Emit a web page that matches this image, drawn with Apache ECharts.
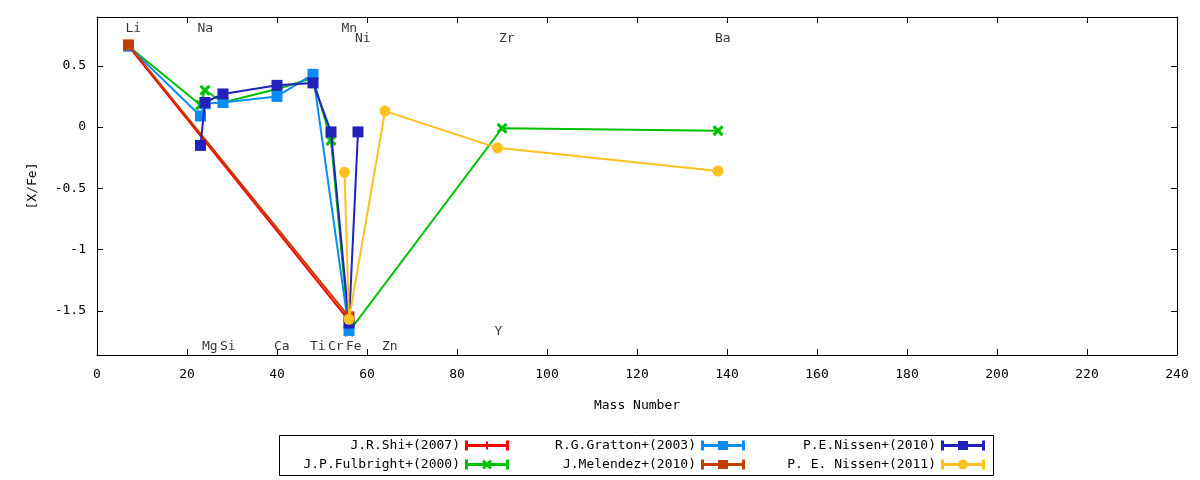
<!DOCTYPE html>
<html>
<head>
<meta charset="utf-8">
<script src="https://cdn.jsdelivr.net/npm/echarts@6/dist/echarts.min.js"></script>
<style>
  html, body { margin: 0; padding: 0; background: #fff; }
  #chart { width: 1200px; height: 480px; }
</style>
</head>
<body>
<div id="chart"></div>
<script>
// element labels drawn on the plot (mass number, [X/Fe] position of the text)
const elementNames = ['Li', 'Na', 'Mn', 'Ni', 'Zr', 'Ba', 'Mg', 'Si', 'Ca', 'Ti', 'Cr', 'Fe', 'Zn', 'Y'];
const elementMass  = [7, 23, 55, 58, 90, 138, 24, 28, 40, 48, 52, 56, 64, 89];
const elementTextY = [0.80, 0.80, 0.80, 0.72, 0.72, 0.72, -1.79, -1.79, -1.79, -1.79, -1.79, -1.79, -1.79, -1.67];

// series, x = mass number, y = [X/Fe]
const shiMass = [7, 56];
const shiVal  = [0.66, -1.58];

const fulbrightMass = [7, 23, 24, 28, 40, 48, 52, 56, 90, 138];
const fulbrightVal  = [0.66, 0.18, 0.30, 0.20, 0.31, 0.40, -0.11, -1.67, -0.01, -0.03];

const grattonMass = [7, 23, 24, 28, 40, 48, 56];
const grattonVal  = [0.66, 0.09, 0.19, 0.20, 0.25, 0.43, -1.66];

const melendezMass = [7, 56];
const melendezVal  = [0.67, -1.55];

const nissen10Mass = [23, 24, 28, 40, 48, 52, 56, 58];
const nissen10Val  = [-0.15, 0.20, 0.27, 0.34, 0.36, -0.04, -1.60, -0.04];

const nissen11Mass = [55, 56, 64, 89, 138];
const nissen11Val  = [-0.37, -1.57, 0.13, -0.17, -0.36];

const xTicks = [0, 240, 20];
const yTickValues = [-1.5, -1, -0.5, 0, 0.5];

const FONT = 'DejaVu Sans Mono';

const pairs = (xs, ys) => xs.map((x, i) => [x, ys[i]]);

// markers
const plusSym = 'path://M4,0 H6 V4 H10 V6 H6 V10 H4 V6 H0 V4 H4 Z';
const crossSym = 'path://M0,2 L2,0 L5,3 L8,0 L10,2 L7,5 L10,8 L8,10 L5,7 L2,10 L0,8 L3,5 Z';

// legend icons: line with error bar caps and the marker in the middle
const bar = 'M0,0 H3 V3.5 H41 V0 H44 V10 H41 V6.5 H3 V10 H0 Z';
const iconPlus = 'path://' + bar + ' M21,1 H23 V9 H21 Z';
const iconSquare = 'path://' + bar + ' M17,0.5 H27 V9.5 H17 Z';
const iconCross = 'path://' + bar + ' M17,2 L19,0 L22,3 L25,0 L27,2 L24,5 L27,8 L25,10 L22,7 L19,10 L17,8 L20,5 Z';
const iconCircle = 'path://' + bar + ' M20,0.3 L24,0.3 L26.8,3 L26.8,7 L24,9.7 L20,9.7 L17.2,7 L17.2,3 Z';

const names = ['J.R.Shi+(2007)', 'J.P.Fulbright+(2000)', 'R.G.Gratton+(2003)',
               'J.Melendez+(2010)', 'P.E.Nissen+(2010)', 'P. E. Nissen+(2011)'];
const colors = ['#ff0000', '#00c000', '#0a8cf5', '#c04000', '#2222bb', '#ffc020'];

function lineSeries(i, data, symbol, size) {
    return {
        name: names[i],
        type: 'line',
        data: data,
        symbol: symbol,
        symbolSize: size,
        color: colors[i],
        lineStyle: { width: 2, color: colors[i] },
        itemStyle: { color: colors[i] },
        z: 3 + i
    };
}

function legendCol(left, items) {
    return {
        orient: 'vertical',
        left: left,
        top: 434,
        align: 'right',
        itemWidth: 44,
        itemHeight: 10,
        itemGap: 6,
        selectedMode: false,
        formatter: '{a|{name}}',
        textStyle: {
            fontFamily: FONT,
            fontSize: 13,
            color: '#000',
            rich: { a: { width: 170, align: 'right', fontFamily: FONT, fontSize: 13, lineHeight: 14 } }
        },
        data: items
    };
}

const axisText = { fontFamily: FONT, fontSize: 13, color: '#000' };

const chart = echarts.init(document.getElementById('chart'));
chart.setOption({
    animation: false,
    backgroundColor: '#fff',
    grid: { left: 97, right: 23, top: 17, bottom: 125 },
    xAxis: [
        {
            type: 'value',
            min: xTicks[0], max: xTicks[1], interval: xTicks[2],
            name: 'Mass Number',
            nameLocation: 'middle',
            nameGap: 44,
            nameTextStyle: axisText,
            axisLine: { onZero: false, lineStyle: { color: '#000', width: 1 } },
            axisTick: { inside: true, length: 6, lineStyle: { color: '#000' } },
            axisLabel: Object.assign({ margin: 13 }, axisText),
            splitLine: { show: false }
        },
        {
            type: 'value',
            position: 'top',
            min: xTicks[0], max: xTicks[1], interval: xTicks[2],
            axisLine: { onZero: false, lineStyle: { color: '#000', width: 1 } },
            axisTick: { inside: true, length: 6, lineStyle: { color: '#000' } },
            axisLabel: { show: false },
            splitLine: { show: false }
        }
    ],
    yAxis: [
        {
            type: 'value',
            min: -1.861, max: 0.898,
            name: '[X/Fe]',
            nameLocation: 'middle',
            nameGap: 58,
            nameRotate: 90,
            nameTextStyle: axisText,
            axisLine: { show: true, onZero: false, lineStyle: { color: '#000', width: 1 } },
            axisTick: { show: true, inside: true, length: 6, customValues: yTickValues, lineStyle: { color: '#000' } },
            axisLabel: Object.assign({ margin: 11, customValues: yTickValues }, axisText),
            splitLine: { show: false }
        },
        {
            type: 'value',
            position: 'right',
            min: -1.861, max: 0.898,
            axisLine: { show: true, onZero: false, lineStyle: { color: '#000', width: 1 } },
            axisTick: { show: true, inside: true, length: 6, customValues: yTickValues, lineStyle: { color: '#000' } },
            axisLabel: { show: false },
            splitLine: { show: false }
        }
    ],
    legend: [
        legendCol(285, [{ name: names[0], icon: iconPlus }, { name: names[1], icon: iconCross }]),
        legendCol(521, [{ name: names[2], icon: iconSquare }, { name: names[3], icon: iconSquare }]),
        legendCol(761, [{ name: names[4], icon: iconSquare }, { name: names[5], icon: iconCircle }])
    ],
    graphic: [{
        type: 'rect',
        left: 277, top: 433,
        shape: { width: 714, height: 40 },
        style: { fill: 'none', stroke: '#000', lineWidth: 1 },
        silent: true
    }],
    series: [
        {
            type: 'scatter',
            data: elementMass.map((m, i) => [m, elementTextY[i], elementNames[i]]),
            symbolSize: 0,
            silent: true,
            z: 2,
            label: {
                show: true,
                position: 'right',
                distance: -3,
                formatter: p => p.data[2],
                fontFamily: FONT,
                fontSize: 13,
                color: '#000'
            }
        },
        lineSeries(0, pairs(shiMass, shiVal), plusSym, 8),
        lineSeries(1, pairs(fulbrightMass, fulbrightVal), crossSym, 11),
        lineSeries(2, pairs(grattonMass, grattonVal), 'rect', 11),
        lineSeries(3, pairs(melendezMass, melendezVal), 'rect', 11),
        lineSeries(4, pairs(nissen10Mass, nissen10Val), 'rect', 11),
        lineSeries(5, pairs(nissen11Mass, nissen11Val), 'circle', 11)
    ]
});
</script>
</body>
</html>
